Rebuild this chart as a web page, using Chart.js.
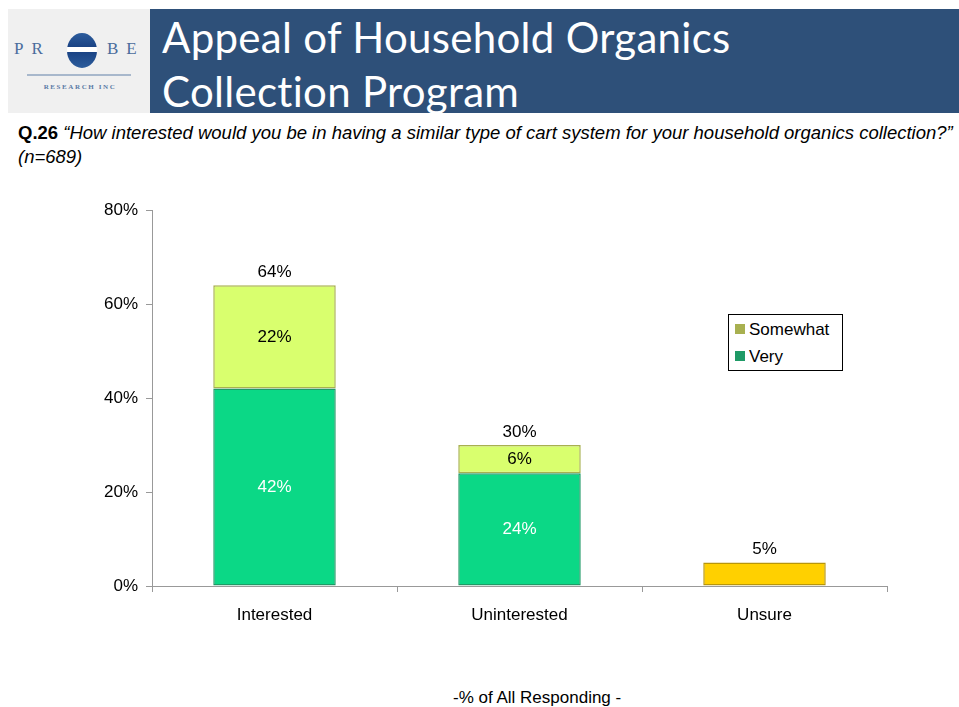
<!DOCTYPE html>
<html>
<head>
<meta charset="utf-8">
<script src="https://cdn.jsdelivr.net/npm/chart.js@4"></script>
<style>
  body { margin: 0; width: 959px; height: 707px; background: #fff; position: relative; overflow: hidden; font-family: "Liberation Sans", Arial, sans-serif; }
  .logo { position: absolute; left: 8px; top: 9px; width: 142px; height: 104px; background: #f0f0f0; }
  .logo .l { position: absolute; top: 30px; font-family: "Liberation Serif", serif; font-size: 17px; color: #4a6c9c; letter-spacing: 8px; }
  .logo .ring { position: absolute; left: 59px; top: 24px; width: 30px; height: 35px; border-radius: 50%;
    background: linear-gradient(#2c5c9c 0%, #1a4384 40%, #fff 40%, #fff 54%, #1a4384 54%, #2c5c9c 100%); }
  .logo .rule { position: absolute; left: 19px; top: 65px; width: 104px; height: 2px; background: #a8b8cc; }
  .logo .sub { position: absolute; left: 18px; top: 74px; width: 108px; text-align: center; font-family: "Liberation Serif", serif; font-size: 7px; letter-spacing: 1.6px; color: #5a7aa6; font-weight: bold; }
  .band { position: absolute; left: 150px; top: 9px; width: 809px; height: 104px; background: #2e5079; overflow: hidden; }
  .band h1 { margin: 0; position: absolute; left: 12px; top: 1px; font-family: Lato, sans-serif; font-weight: 400; font-size: 42px; line-height: 54px; color: #fff; letter-spacing: 0.3px; }
  .q { position: absolute; left: 18px; top: 121px; font-size: 18.5px; line-height: 24px; color: #000; font-style: italic; width: 941px; }
  .q b { font-style: normal; }
  #wrap { position: absolute; left: 0; top: 190px; width: 959px; height: 460px; }
  #legend { position: absolute; left: 728px; top: 314px; width: 113px; height: 55px; border: 1px solid #000; background: #fff; font-size: 17px; }
  #legend div { position: absolute; left: 6px; height: 20px; line-height: 20px; }
  #legend span { display: inline-block; width: 10px; height: 10px; margin-right: 4px; vertical-align: 1px; }
  .foot { position: absolute; left: 453px; top: 688px; font-size: 17px; color: #000; }
</style>
</head>
<body>
<div class="logo">
  <div class="l" style="left:6px">PR</div>
  <div class="ring"></div>
  <div class="l" style="left:99px">BE</div>
  <div class="rule"></div>
  <div class="sub">RESEARCH INC</div>
</div>
<div class="band"><h1>Appeal of Household Organics<br>Collection Program</h1></div>
<div class="q"><b>Q.26</b> “How interested would you be in having a similar type of cart system for your household organics collection?” (n=689)</div>
<div id="wrap"><canvas id="chart" width="959" height="460"></canvas></div>
<div id="legend"></div>
<div class="foot">-% of All Responding -</div>
<script>
// Data
const categories = ['Interested', 'Uninterested', 'Unsure'];
const veryValues = [42, 24, null];
const somewhatValues = [22, 6, null];
const unsureValues = [null, null, 5];
const yTicks = [0, 20, 40, 60, 80];

const colors = {
  very: '#0bd886', veryBorder: '#1f9a66',
  somewhat: '#d9ff6e', somewhatBorder: '#a8b050',
  unsure: '#ffd000', unsureBorder: '#b8960a'
};

// Segment labels and totals above each stack
const labelPlugin = {
  id: 'labels',
  afterDatasetsDraw(chart) {
    const ctx = chart.ctx;
    ctx.save();
    ctx.font = '17px "Liberation Sans", Arial, sans-serif';
    ctx.textAlign = 'center';
    ctx.textBaseline = 'middle';
    chart.data.datasets.forEach((ds, i) => {
      if (!ds.segmentLabel) return;
      chart.getDatasetMeta(i).data.forEach((bar, j) => {
        const v = ds.data[j];
        if (v == null) return;
        ctx.fillStyle = ds.labelColor;
        ctx.fillText(v + '%', bar.x, (bar.y + bar.base) / 2);
      });
    });
    const yScale = chart.scales.y;
    categories.forEach((c, j) => {
      let total = 0;
      chart.data.datasets.forEach(ds => { total += ds.data[j] || 0; });
      const x = chart.scales.x.getPixelForValue(j);
      ctx.fillStyle = '#000';
      ctx.fillText(total + '%', x, yScale.getPixelForValue(total) - 13);
    });
    ctx.restore();
  }
};

const chart = new Chart(document.getElementById('chart'), {
  type: 'bar',
  data: {
    labels: categories,
    datasets: [
      { label: 'Very', data: veryValues, backgroundColor: colors.very, borderColor: colors.veryBorder,
        borderWidth: 1.5, borderSkipped: false, segmentLabel: true, labelColor: '#fff' },
      { label: 'Somewhat', data: somewhatValues, backgroundColor: colors.somewhat, borderColor: colors.somewhatBorder,
        borderWidth: 1.5, borderSkipped: false, segmentLabel: true, labelColor: '#000' },
      { label: 'Unsure', data: unsureValues, backgroundColor: colors.unsure, borderColor: colors.unsureBorder,
        borderWidth: 1.5, borderSkipped: false }
    ]
  },
  options: {
    responsive: false,
    animation: false,
    layout: { padding: { top: 20, right: 72, bottom: 0, left: 0 } },
    datasets: { bar: { categoryPercentage: 1, barPercentage: 0.5 } },
    plugins: { legend: { display: false }, tooltip: { enabled: false } },
    scales: {
      x: {
        stacked: true,
        afterFit: s => { s.height = 64; },
        grid: { drawOnChartArea: false, tickLength: 6, color: '#999' },
        border: { color: '#999' },
        ticks: { color: '#000', padding: 13, font: { size: 17, family: '"Liberation Sans", Arial' } }
      },
      y: {
        stacked: true,
        min: 0, max: 80,
        afterFit: s => { s.width = 152; },
        afterBuildTicks: s => { s.ticks = yTicks.map(v => ({ value: v })); },
        grid: { drawOnChartArea: false, tickLength: 6, color: '#999' },
        border: { color: '#999' },
        ticks: { color: '#000', padding: 8, callback: v => v + '%', font: { size: 17, family: '"Liberation Sans", Arial' } }
      }
    }
  },
  plugins: [labelPlugin]
});

// Legend (Somewhat above Very, as in the original)
const legend = document.getElementById('legend');
[1, 0].forEach((i, row) => {
  const ds = chart.data.datasets[i];
  const item = document.createElement('div');
  item.style.top = (5 + row * 27) + 'px';
  item.innerHTML = '<span style="background:' + ds.borderColor + '"></span>' + ds.label;
  legend.appendChild(item);
});
</script>
</body>
</html>
